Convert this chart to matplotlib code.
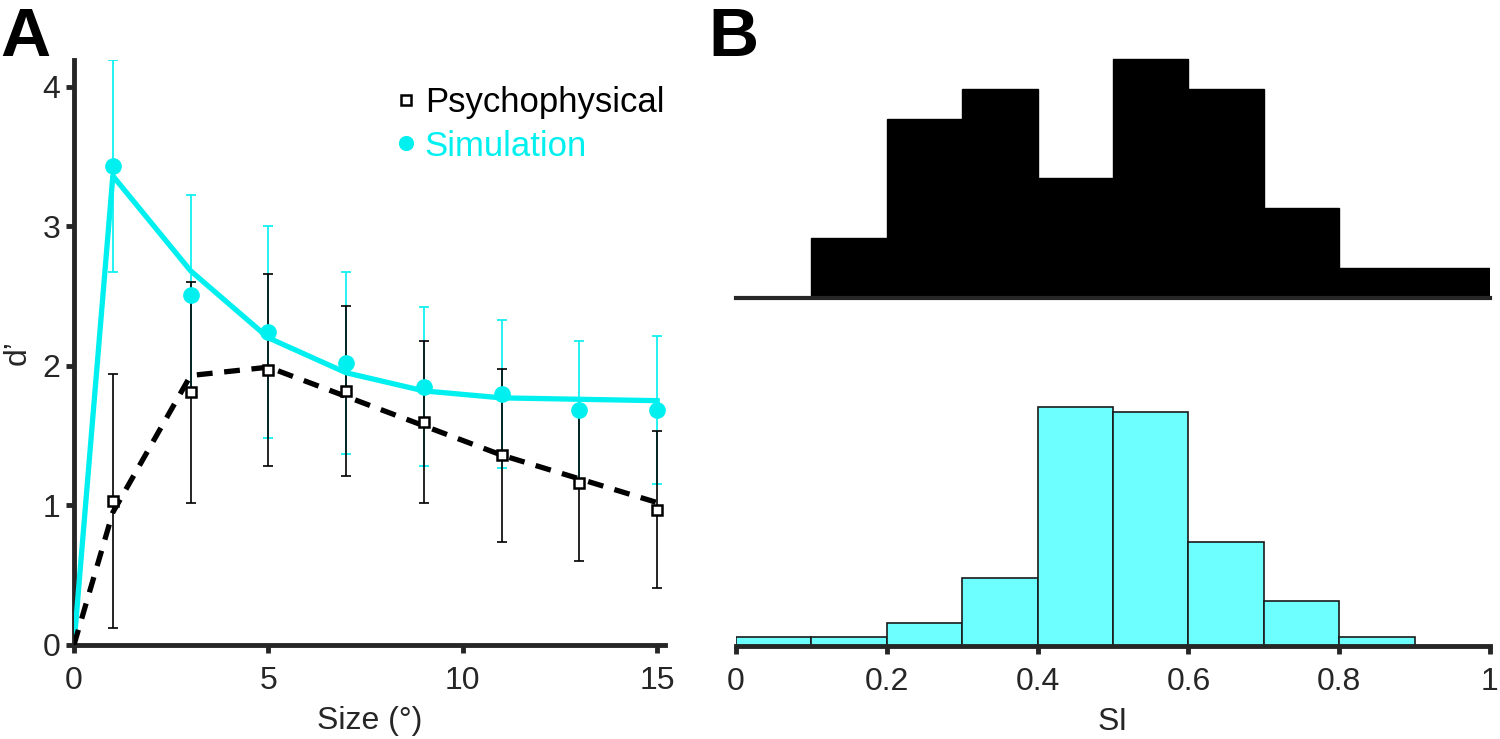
import numpy as np
import matplotlib
matplotlib.use('Agg')
import matplotlib.pyplot as plt

plt.rcParams['font.family'] = ['Liberation Sans', 'DejaVu Sans']

# Panel A data
sizes = [1, 3, 5, 7, 9, 11, 13, 15]
psy_d = [1.03, 1.81, 1.97, 1.82, 1.60, 1.36, 1.16, 0.97]
psy_err = [0.91, 0.79, 0.69, 0.61, 0.58, 0.62, 0.56, 0.56]
sim_d = [3.43, 2.51, 2.24, 2.02, 1.85, 1.80, 1.68, 1.68]
sim_err = [0.76, 0.71, 0.76, 0.65, 0.57, 0.53, 0.50, 0.53]
fit_x = [0, 1, 3, 5, 7, 9, 11, 13, 15]
psy_fit = [0, 0.95, 1.93, 1.99, 1.78, 1.57, 1.36, 1.19, 1.02]
sim_fit = [0, 3.36, 2.68, 2.20, 1.95, 1.82, 1.77, 1.76, 1.75]

# Panel B data (SI histograms)
bin_edges = np.round(np.arange(0, 1.01, 0.1), 2)
counts_top = [0, 2, 6, 7, 4, 8, 7, 3, 1, 1]
counts_bottom = [2, 2, 5, 15, 53, 52, 23, 10, 2, 0]

cyan = '#00f0f0'
spine_col = '#262626'
fs = 23

fig = plt.figure(figsize=(15, 7.39), dpi=100)

# ---- A ----
ax = fig.add_axes([0.0493, 0.1272, 0.394, 0.7916])
ax.errorbar(sizes, sim_d, yerr=sim_err, fmt='none', ecolor=cyan, elinewidth=1.2,
            capsize=3.8, capthick=1.2, zorder=2)
ax.errorbar(sizes, psy_d, yerr=psy_err, fmt='none', ecolor='black', elinewidth=1.2,
            capsize=3.8, capthick=1.2, zorder=2)
ax.plot(fit_x, sim_fit, color=cyan, lw=3.8, zorder=3)
ax.plot(fit_x, psy_fit, color='black', lw=3.8, ls=(0, (3, 2.2)), zorder=3)
ax.plot(sizes, sim_d, 'o', color=cyan, ms=11, zorder=4, label='Simulation')
ax.plot(sizes, psy_d, 's', mfc='white', mec='black', mew=1.8, ms=7.5, zorder=5,
        label='Psychophysical')

ax.set_xlim(0, 15.2)
ax.set_ylim(0, 4.19)
ax.set_xticks([0, 5, 10, 15])
ax.set_yticks([0, 1, 2, 3, 4])
for s in ['top', 'right']:
    ax.spines[s].set_visible(False)
for s in ['left', 'bottom']:
    ax.spines[s].set_linewidth(3.5)
    ax.spines[s].set_color(spine_col)
ax.tick_params(axis='x', pad=9)
ax.tick_params(axis='y', pad=4)
ax.tick_params(direction='out', length=6, width=3.5, color=spine_col,
               labelsize=fs, labelcolor=spine_col)
ax.set_xlabel('Size (°)', fontsize=fs, color=spine_col, labelpad=7)
ax.set_ylabel('d’', fontsize=fs, color=spine_col, labelpad=7)

h, l = ax.get_legend_handles_labels()
leg = ax.legend(h[::-1], l[::-1], loc='upper left', bbox_to_anchor=(0.52, 0.985),
                frameon=False, fontsize=25, handlelength=0.45, handletextpad=0.3,
                labelspacing=0.3, borderpad=0, markerscale=0.9)
leg.get_texts()[1].set_color(cyan)

fig.text(0.0, 0.992, 'A', fontsize=50, fontweight='bold', va='top', ha='left')
fig.text(0.472, 0.992, 'B', fontsize=50, fontweight='bold', va='top', ha='left')

# ---- B top ----
axt = fig.add_axes([0.4907, 0.5968, 0.5026, 0.3491])
axt.bar(bin_edges[:-1], counts_top, width=0.1, align='edge', color='black',
        edgecolor='black', lw=1)
axt.set_xlim(0, 1)
axt.set_ylim(0, 8.63)
for s in ['top', 'right', 'left']:
    axt.spines[s].set_visible(False)
axt.spines['bottom'].set_linewidth(3)
axt.spines['bottom'].set_color(spine_col)
axt.set_xticks([])
axt.set_yticks([])

# ---- B bottom ----
axb = fig.add_axes([0.4907, 0.1258, 0.5026, 0.3735])
axb.bar(bin_edges[:-1], counts_bottom, width=0.1, align='edge', color='#6dffff',
        edgecolor='#1a1a1a', lw=1.2)
axb.set_xlim(0, 1)
axb.set_ylim(0, 61.2)
for s in ['top', 'right', 'left']:
    axb.spines[s].set_visible(False)
axb.spines['bottom'].set_linewidth(3.5)
axb.spines['bottom'].set_color(spine_col)
axb.set_yticks([])
axb.set_xticks([0, 0.2, 0.4, 0.6, 0.8, 1])
axb.set_xticklabels(['0', '0.2', '0.4', '0.6', '0.8', '1'])
axb.tick_params(direction='out', length=6, width=3.5, color=spine_col,
                labelsize=fs, labelcolor=spine_col, pad=9)
axb.set_xlabel('SI', fontsize=fs, color=spine_col, labelpad=7)

fig.savefig('out.png', dpi=100)
